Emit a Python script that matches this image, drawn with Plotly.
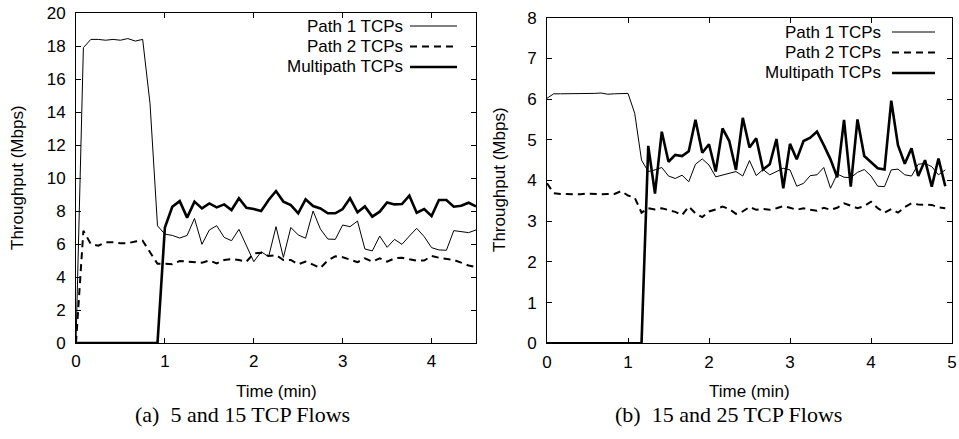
import plotly.graph_objects as go

# ---------------- data: (a) 5 and 15 TCP flows ----------------
time_a = [0.000, 0.083, 0.167, 0.250, 0.333, 0.417, 0.500, 0.583, 0.667, 0.750,
          0.833, 0.917, 1.000, 1.083, 1.167, 1.250, 1.333, 1.417, 1.500, 1.583,
          1.667, 1.750, 1.833, 1.917, 2.000, 2.083, 2.167, 2.250, 2.333, 2.417,
          2.500, 2.583, 2.667, 2.750, 2.833, 2.917, 3.000, 3.083, 3.167, 3.250,
          3.333, 3.417, 3.500, 3.583, 3.667, 3.750, 3.833, 3.917, 4.000, 4.083,
          4.167, 4.250, 4.333, 4.417, 4.500]
path1_a = [0.0, 17.9, 18.4, 18.4, 18.35, 18.4, 18.35, 18.45, 18.3, 18.4,
           14.5, 7.1, 6.6, 6.52, 6.36, 6.52, 7.55, 5.98, 6.85, 7.11,
           6.4, 6.2, 6.89, 5.9, 4.93, 5.53, 5.23, 7.05, 5.19, 7.0,
           6.55, 6.35, 8.0, 6.9, 6.3, 6.28, 7.15, 7.05, 7.39, 5.7,
           5.58, 6.48, 5.8, 6.28, 5.98, 6.48, 6.95, 6.45, 5.78, 5.64,
           5.62, 6.81, 6.77, 6.69, 6.85]
path2_a = [0.0, 6.8, 6.0, 5.9, 6.1, 6.1, 6.05, 6.05, 6.15, 6.2,
           5.5, 4.8, 4.8, 4.78, 4.97, 4.95, 4.9, 4.87, 5.0, 4.83,
           5.03, 5.09, 5.03, 4.93, 5.43, 5.47, 5.27, 5.33, 5.03, 5.03,
           4.77, 4.93, 4.75, 4.55, 5.0, 5.25, 5.2, 5.07, 4.9, 5.13,
           4.93, 5.13, 4.93, 5.13, 5.17, 5.07, 5.0, 5.0, 5.27, 5.17,
           5.1, 5.03, 4.87, 4.7, 4.6]
multi_a = [0.0, 0.0, 0.0, 0.0, 0.0, 0.0, 0.0, 0.0, 0.0, 0.0,
           0.0, 0.0, 7.0, 8.26, 8.6, 7.6, 8.57, 8.16, 8.46, 8.22,
           8.4, 8.06, 8.77, 8.2, 8.12, 8.0, 8.67, 9.21, 8.57, 8.36,
           7.86, 8.71, 8.3, 8.15, 7.86, 7.86, 8.12, 8.77, 7.92, 8.28,
           7.66, 7.96, 8.52, 8.4, 8.42, 8.93, 7.9, 8.12, 7.7, 8.67,
           8.67, 8.26, 8.32, 8.5, 8.28]

# ---------------- data: (b) 15 and 25 TCP flows ----------------
time_b = [0.000, 0.083, 0.167, 0.250, 0.333, 0.417, 0.500, 0.583, 0.667, 0.750,
          0.833, 0.917, 1.000, 1.083, 1.167, 1.250, 1.333, 1.417, 1.500, 1.583,
          1.667, 1.750, 1.833, 1.917, 2.000, 2.083, 2.167, 2.250, 2.333, 2.417,
          2.500, 2.583, 2.667, 2.750, 2.833, 2.917, 3.000, 3.083, 3.167, 3.250,
          3.333, 3.417, 3.500, 3.583, 3.667, 3.750, 3.833, 3.917, 4.000, 4.083,
          4.167, 4.250, 4.333, 4.417, 4.500, 4.583, 4.667, 4.750, 4.833, 4.917]
path1_b = [6.02, 6.13, 6.13, 6.13, 6.13, 6.14, 6.13, 6.14, 6.15, 6.12,
           6.13, 6.13, 6.14, 5.65, 4.5, 4.22, 4.26, 4.32, 4.11, 4.05,
           4.13, 3.97, 4.4, 4.53, 4.38, 4.09, 4.13, 4.17, 4.22, 4.11,
           4.49, 4.12, 4.27, 4.14, 4.22, 4.3, 4.26, 3.86, 3.93, 4.12,
           4.14, 4.32, 3.81, 4.16, 4.08, 4.07, 4.2, 4.27, 4.11, 3.86,
           3.85, 4.26, 4.28, 4.14, 4.11, 4.4, 4.42, 4.34, 4.14, 4.26]
path2_b = [3.93, 3.69, 3.67, 3.67, 3.67, 3.66, 3.68, 3.67, 3.66, 3.67,
           3.67, 3.74, 3.63, 3.58, 3.21, 3.32, 3.29, 3.32, 3.27, 3.23,
           3.15, 3.36, 3.19, 3.1, 3.24, 3.29, 3.36, 3.3, 3.18, 3.24,
           3.35, 3.28, 3.3, 3.28, 3.32, 3.37, 3.33, 3.28, 3.32, 3.28,
           3.26, 3.33, 3.28, 3.33, 3.44, 3.38, 3.32, 3.37, 3.48, 3.32,
           3.21, 3.3, 3.21, 3.35, 3.44, 3.41, 3.4, 3.4, 3.34, 3.32]
multi_b = [0.0, 0.0, 0.0, 0.0, 0.0, 0.0, 0.0, 0.0, 0.0, 0.0,
           0.0, 0.0, 0.0, 0.0, 0.0, 4.85, 3.68, 5.2, 4.46, 4.63,
           4.6, 4.72, 5.49, 4.68, 4.89, 4.22, 5.28, 4.97, 4.26, 5.54,
           4.81, 5.04, 4.27, 4.4, 5.02, 3.81, 4.9, 4.52, 4.97, 5.05,
           5.2, 4.87, 4.52, 4.08, 5.49, 3.85, 5.5, 4.6, 4.46, 4.3,
           4.27, 5.96, 4.87, 4.41, 4.79, 4.11, 4.5, 3.85, 4.54, 3.86]

series_names = ["Path 1 TCPs", "Path 2 TCPs", "Multipath TCPs"]
x_ticks_a = [0, 1, 2, 3, 4]
y_ticks_a = [0, 2, 4, 6, 8, 10, 12, 14, 16, 18, 20]
x_ticks_b = [0, 1, 2, 3, 4, 5]
y_ticks_b = [0, 1, 2, 3, 4, 5, 6, 7, 8]
captions = ["(a)  5 and 15 TCP Flows", "(b)  15 and 25 TCP Flows"]
x_title = "Time (min)"
y_title = "Throughput (Mbps)"

W, H = 959, 439
styles = [dict(color="black", width=1),
          dict(color="black", width=2, dash="7px,5px"),
          dict(color="black", width=2.6)]

fig = go.Figure()
for (t, ys, xa, ya) in [(time_a, [path1_a, path2_a, multi_a], "x", "y"),
                        (time_b, [path1_b, path2_b, multi_b], "x2", "y2")]:
    for name, y, st in zip(series_names, ys, styles):
        fig.add_trace(go.Scatter(x=t, y=y, mode="lines", name=name, line=st,
                                 xaxis=xa, yaxis=ya, showlegend=False,
                                 cliponaxis=False))

FONT = "Liberation Sans, Arial, sans-serif"
axis_common = dict(showgrid=False, zeroline=False, showline=True, linecolor="black",
                   linewidth=1, mirror="ticks", ticks="inside", ticklen=5,
                   tickcolor="black", tickwidth=1, automargin=False,
                   tickfont=dict(family=FONT, size=17, color="black"))

# pixel geometry -> paper fractions
def px(x):
    return x / W

def py(y):
    return 1 - y / H

fig.update_layout(
    width=W, height=H, margin=dict(l=0, r=0, t=0, b=0),
    paper_bgcolor="white", plot_bgcolor="white",
    xaxis=dict(domain=[px(76), px(476)], range=[0, 4.5], tickvals=x_ticks_a,
               ticklabelstandoff=3, anchor="y", **axis_common),
    yaxis=dict(domain=[py(343), py(13)], range=[0, 20], tickvals=y_ticks_a,
               ticklabelstandoff=6, anchor="x", **axis_common),
    xaxis2=dict(domain=[px(547), px(952)], range=[0, 5], tickvals=x_ticks_b,
                ticklabelstandoff=3, anchor="y2", **axis_common),
    yaxis2=dict(domain=[py(343.3), py(17.7)], range=[0, 8], tickvals=y_ticks_b,
                ticklabelstandoff=6, anchor="x2", **axis_common),
    showlegend=False,
)

ann = []
# axis titles
for cx in [276, 749]:
    ann.append(dict(x=px(cx), y=py(391), xref="paper", yref="paper", text=x_title,
                    xanchor="center", yanchor="middle", showarrow=False,
                    font=dict(family=FONT, size=17, color="black")))
for cx, cy in [(17, 178), (499, 180)]:
    ann.append(dict(x=px(cx), y=py(cy), xref="paper", yref="paper", text=y_title,
                    xanchor="center", yanchor="middle",
                    textangle=-90, showarrow=False,
                    font=dict(family=FONT, size=17, color="black")))
# captions
for cx, cap in zip([242, 728], captions):
    ann.append(dict(x=px(cx), y=py(414), xref="paper", yref="paper", text=cap,
                    xanchor="center", yanchor="middle", showarrow=False,
                    font=dict(family="Liberation Serif, Times New Roman, serif",
                              size=22, color="black")))

# gnuplot-style legends (text right-aligned, sample line on the right)
shapes = []
for (tx, lx0, lx1, y0) in [(405, 410, 457, 26), (883, 892, 935, 32)]:
    for k, (name, st) in enumerate(zip(series_names, styles)):
        yy = y0 + 20.5 * k
        ann.append(dict(x=px(tx), y=py(yy), xref="paper", yref="paper", text=name,
                        xanchor="right", yanchor="middle", showarrow=False,
                        font=dict(family=FONT, size=17, color="black")))
        shapes.append(dict(type="line", xref="paper", yref="paper",
                           x0=px(lx0), x1=px(lx1), y0=py(yy), y1=py(yy),
                           line=st))

fig.update_layout(annotations=ann, shapes=shapes)
fig.write_html("out.html", config={"displayModeBar": False},
               post_script="document.body.style.margin='0';document.body.style.overflow='hidden';")
